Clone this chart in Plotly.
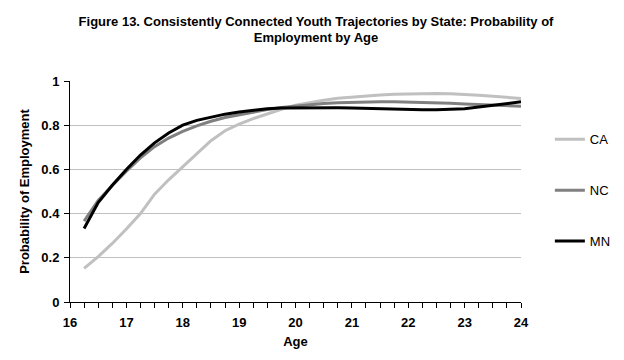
import plotly.graph_objects as go

# quarterly ages
ages = [16.25, 16.5, 16.75, 17.0, 17.25, 17.5, 17.75, 18.0,
        18.25, 18.5, 18.75, 19.0, 19.25, 19.5, 19.75, 20.0,
        20.25, 20.5, 20.75, 21.0, 21.25, 21.5, 21.75, 22.0,
        22.25, 22.5, 22.75, 23.0, 23.25, 23.5, 23.75, 24.0]

ca = [0.152, 0.205, 0.265, 0.330, 0.400, 0.488, 0.553, 0.612,
      0.675, 0.730, 0.775, 0.805, 0.830, 0.852, 0.872, 0.890,
      0.903, 0.913, 0.922, 0.928, 0.933, 0.937, 0.940, 0.942,
      0.943, 0.943, 0.942, 0.940, 0.936, 0.931, 0.927, 0.921]

nc = [0.366, 0.460, 0.527, 0.592, 0.652, 0.703, 0.742, 0.772,
      0.797, 0.818, 0.835, 0.848, 0.860, 0.871, 0.880, 0.887,
      0.893, 0.898, 0.902, 0.904, 0.905, 0.906, 0.906, 0.905,
      0.903, 0.901, 0.899, 0.896, 0.894, 0.893, 0.890, 0.886]

mn = [0.333, 0.450, 0.528, 0.600, 0.665, 0.720, 0.765, 0.800,
      0.822, 0.837, 0.850, 0.860, 0.868, 0.874, 0.878, 0.879,
      0.880, 0.880, 0.879, 0.878, 0.876, 0.874, 0.872, 0.871,
      0.870, 0.870, 0.871, 0.875, 0.882, 0.890, 0.899, 0.906]

series = [("CA", ca, "#C0C0C0"), ("NC", nc, "#808080"), ("MN", mn, "#000000")]

font = "Liberation Sans, Arial, sans-serif"

fig = go.Figure()
for name, vals, col in series:
    fig.add_trace(go.Scatter(
        x=ages, y=vals, name=name, mode="lines",
        legendgroup=name,
        line=dict(color=col, width=3)
    ))

# page body has an 8px margin, so the figure is a bit smaller than the window
fig.update_layout(
    width=616, height=352,
    paper_bgcolor="white", plot_bgcolor="white",
    margin=dict(l=62, r=103, t=73, b=58, autoexpand=False),
    font=dict(family=font, size=13, color="black"),
    title=dict(
        text="<b>Figure 13. Consistently Connected Youth Trajectories by State: Probability of<br>Employment by Age</b>",
        x=0.5, xanchor="center", yref="container", y=1 - 17.5 / 352, yanchor="middle",
        font=dict(family=font, size=13, color="black")
    ),
    showlegend=True,
    legend=dict(
        x=1.064, xanchor="left", y=0.804, yanchor="top",
        tracegroupgap=31, itemwidth=30,
        font=dict(family=font, size=13, color="black"),
        bgcolor="rgba(0,0,0,0)"
    ),
    xaxis=dict(
        range=[16, 24], dtick=1, tick0=16,
        showgrid=False, zeroline=False, automargin=False,
        showline=True, linecolor="black", linewidth=1,
        ticks="outside", ticklen=5, tickcolor="black",
        ticklabelstandoff=3,
        tickfont=dict(family=font, size=13, color="black"),
        minor=dict(dtick=0.25, ticks="outside", ticklen=5, tickcolor="black", showgrid=False),
        title=dict(text="<b>Age</b>", font=dict(family=font, size=13, color="black"), standoff=8),
        tickprefix="<b>", ticksuffix="</b>"
    ),
    yaxis=dict(
        range=[0, 1], dtick=0.2,
        showgrid=True, gridcolor="#C0C0C0", gridwidth=1,
        zeroline=False, automargin=False,
        showline=True, linecolor="black", linewidth=1,
        ticks="outside", ticklen=5, tickcolor="black",
        ticklabelstandoff=2,
        tickfont=dict(family=font, size=13, color="black"),
        title=dict(text="<b>Probability of Employment</b>", font=dict(family=font, size=13, color="black"), standoff=8),
        tickprefix="<b>", ticksuffix="</b>"
    ),
)

fig.write_html("out.html")
